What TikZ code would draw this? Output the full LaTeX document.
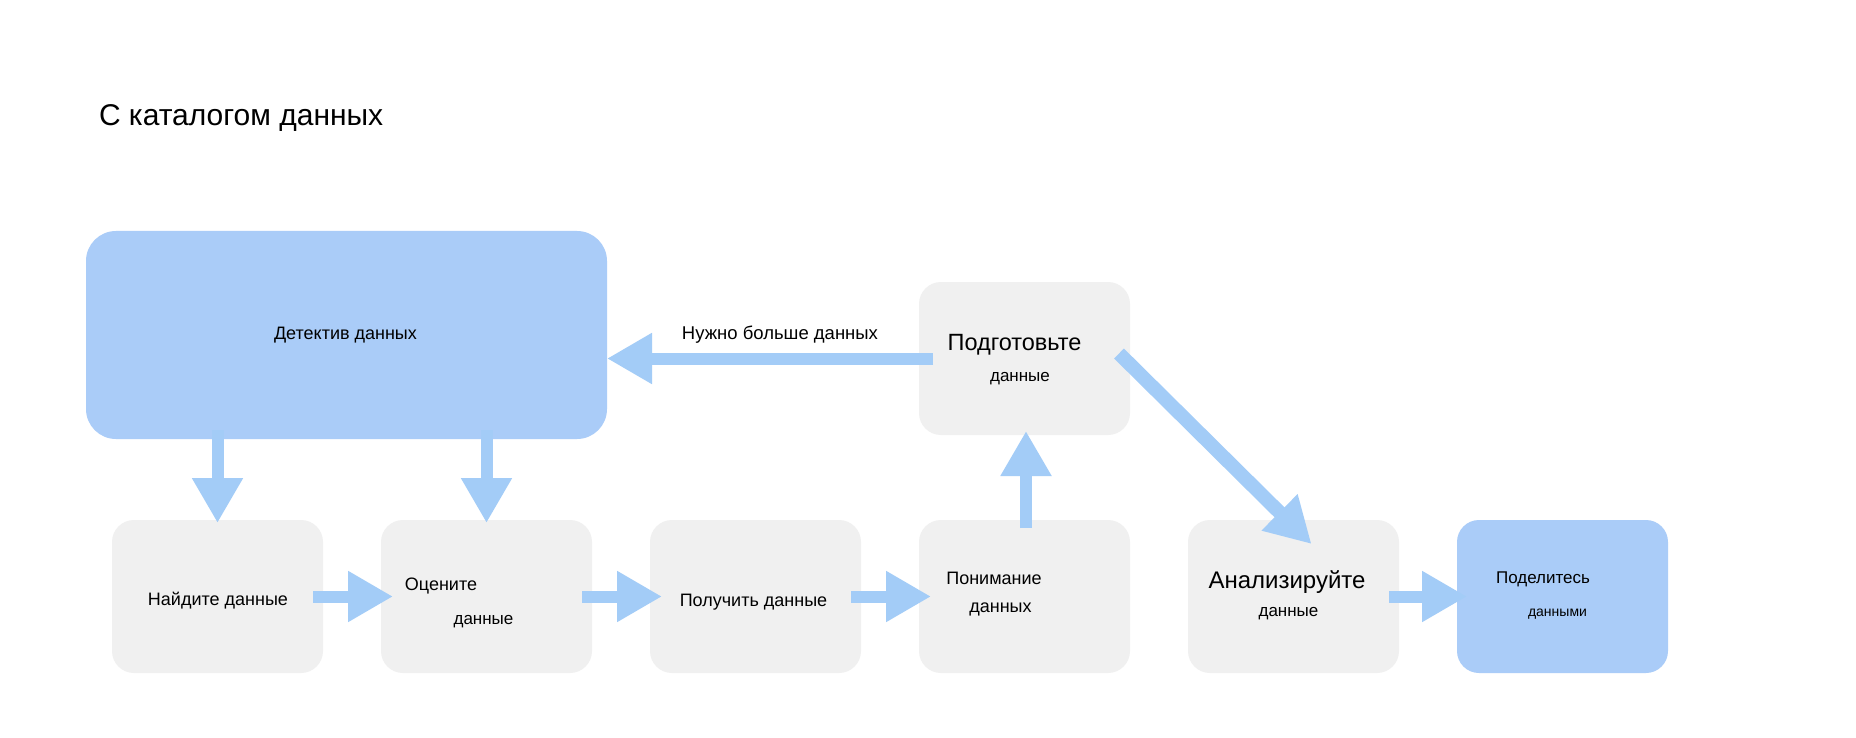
\documentclass[tikz,border=0pt]{standalone}
\usepackage{fontspec}
\setmainfont{Liberation Sans}
\usetikzlibrary{arrows.meta,calc}
\definecolor{boxblue}{HTML}{AACCF8}
\definecolor{arrowblue}{HTML}{A3CCF7}
\definecolor{boxgray}{HTML}{F0F0F0}
\begin{document}
\begin{tikzpicture}[x=1pt,y=-1pt,
  stagebox/.style={fill=boxgray, draw=none, rounded corners=22pt, minimum width=211pt, minimum height=153pt, inner sep=0pt, outer sep=0pt, anchor=north west},
  bluebox/.style={stagebox, fill=boxblue},
  flow/.style={draw=arrowblue, line width=12pt, -{Triangle[length=45pt,width=48pt]}},
  lbl/.style={inner sep=0pt, outer sep=0pt, anchor=base, text=black},
  fa/.style={font=\fontsize{18pt}{21pt}\selectfont},
  fb/.style={font=\fontsize{17pt}{20pt}\selectfont},
  fc/.style={font=\fontsize{23.5pt}{27pt}\selectfont},
]
\useasboundingbox (0,0) rectangle (1856,738);
\fill[white] (0,0) rectangle (1856,738);

% boxes
\node[bluebox, rounded corners=30pt, minimum width=521pt, minimum height=208pt] (det) at (86,231) {};
\node[stagebox] (prep) at (919,282) {};
\node[stagebox] (find) at (112,520) {};
\node[stagebox] (assess) at (381,520) {};
\node[stagebox] (get) at (650,520) {};
\node[stagebox] (under) at (919,520) {};
\node[stagebox] (anal) at (1188,520) {};
\node[bluebox] (share) at (1457,520) {};

% connectors
\draw[flow] ($(find.north |- det.south)+(0,-9)$) -- ($(find.north)+(0,3)$);
\draw[flow] ($(assess.north |- det.south)+(0,-9)$) -- ($(assess.north)+(0,3)$);
\draw[flow] ($(find.east)+(-10,0)$) -- ($(assess.west)+(12,0)$);
\draw[flow] ($(assess.east)+(-10,0)$) -- ($(get.west)+(12,0)$);
\draw[flow] ($(get.east)+(-10,0)$) -- ($(under.west)+(12,0)$);
\draw[flow] ($(under.north)+(1.5,8)$) -- ($(prep.south)+(1.5,-4)$);
\draw[flow] ($(prep.west)+(14,0)$) -- (prep.west -| det.east);
\draw[flow, line width=14pt] ($(prep.east)+(-11,-5)$) -- ($(anal.north)+(18,24)$);
\draw[flow] ($(anal.east)+(-10,0)$) -- ($(share.west)+(10,0)$);

% texts
\node[lbl, anchor=base west, font=\fontsize{30pt}{35pt}\selectfont] (title) at (99,125.5) {С каталогом данных};
\node[lbl, fa] (tdet) at (345.5,339.5) {Детектив данных};
\node[lbl, font=\fontsize{18.5pt}{22pt}\selectfont] (tmore) at (780,339.5) {Нужно больше данных};
\node[lbl, fc] (tprep1) at (1014.5,350.5) {Подготовьте};
\node[lbl, fb] (tprep2) at (1020,381.5) {данные};
\node[lbl, fa] (tfind) at (218,605.5) {Найдите данные};
\node[lbl, fa] (tass1) at (441,590.5) {Оцените};
\node[lbl, fb] (tass2) at (483.5,624.5) {данные};
\node[lbl, fa] (tget) at (753.5,606.5) {Получить данные};
\node[lbl, fa] (tund1) at (994,584.5) {Понимание};
\node[lbl, fa] (tund2) at (1000.5,612.5) {данных};
\node[lbl, font=\fontsize{24pt}{28pt}\selectfont] (tan1) at (1287,588.5) {Анализируйте};
\node[lbl, fb] (tan2) at (1288.5,616.5) {данные};
\node[lbl, fb] (tsh1) at (1543,583.5) {Поделитесь};
\node[lbl, font=\fontsize{14pt}{17pt}\selectfont] (tsh2) at (1557.5,616) {данными};
\end{tikzpicture}
\end{document}
